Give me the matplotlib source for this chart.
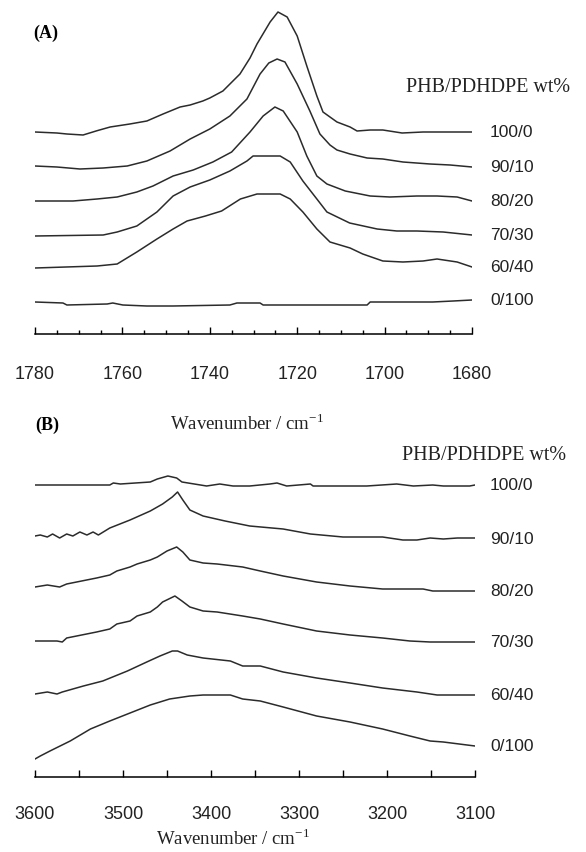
import numpy as np
import matplotlib
matplotlib.use('Agg')
import matplotlib.pyplot as plt
from matplotlib.ticker import MultipleLocator

plt.rcParams['mathtext.fontset'] = 'stix'

blend_labels = ['100/0', '90/10', '80/20', '70/30', '60/40', '0/100']

# ---- (A) carbonyl region, wavenumber (cm-1) / relative absorbance (a.u.)
a_offsets = [202, 168, 133, 98, 66, 32]

a_wn_100 = [1780, 1775, 1772.7, 1769, 1765.8, 1762.8, 1758.3, 1754.4, 1750.7, 1746.8, 1744.5, 1741.6,
            1740, 1737, 1733.1, 1730.8, 1729.2, 1726.2, 1724.4, 1722.3, 1720, 1717.8, 1715.5, 1714.1,
            1710.9, 1707.9, 1706.3, 1703.3, 1700.4, 1696, 1691.2, 1685, 1682, 1680]
a_ab_100 = [0, -1, -2, -3, 1.3, 5, 8, 11, 18, 25, 27, 31,
            34, 41, 58, 74, 88, 110, 120, 115, 96, 66, 36, 20,
            10, 5, 1, 2, 2, -1, 0, 0, 0, 0]

a_wn_90 = [1780, 1775, 1769.7, 1764.4, 1758.9, 1754.4, 1749.1, 1744.5, 1740, 1735.4, 1731.5, 1728.5,
           1726.5, 1724.6, 1722.8, 1720, 1717.1, 1714.8, 1712.5, 1710.9, 1707.9, 1704, 1700.4, 1695.8,
           1689.6, 1685, 1680]
a_ab_90 = [0, -1, -3, -2, 0, 5, 15, 27, 37, 50, 67, 92,
           103, 107, 104, 82, 55, 32, 21, 16, 12, 8, 7, 4,
           2, 1, -1]

a_wn_80 = [1780, 1771.3, 1765.8, 1761.2, 1756.7, 1753, 1748.4, 1743.8, 1739.3, 1735, 1730.8, 1727.8,
           1725.1, 1723.2, 1720, 1717.8, 1715.5, 1713.2, 1709, 1703.3, 1698.8, 1692.6, 1688, 1683.4, 1680]
a_ab_80 = [0, 0, 2, 4, 9, 15, 25, 31, 39, 49, 69, 85,
           94, 90, 69, 45, 25, 17, 10, 5, 4, 5, 5, 4, 0]

a_wn_70 = [1780, 1764.4, 1761.2, 1756.7, 1752.1, 1748.4, 1744.5, 1740, 1735.4, 1731.5, 1730.1, 1723.9,
           1721.6, 1718.7, 1715.5, 1713.2, 1708, 1701.7, 1697.2, 1692.6, 1686.6, 1680]
a_ab_70 = [0, 1, 4, 10, 24, 40, 49, 56, 65, 75, 80, 80,
           74, 55, 37, 24, 13, 7, 5, 5, 4, 1]

a_wn_60 = [1780, 1765.8, 1761.2, 1756.7, 1752.1, 1748.4, 1745.2, 1741, 1737.3, 1733, 1729.2, 1723.9,
           1721.6, 1718.7, 1715.5, 1712.5, 1707.9, 1705, 1700.4, 1695.8, 1691.2, 1688, 1683.4, 1680]
a_ab_60 = [0, 2, 4, 16, 29, 39, 47, 52, 57, 69, 74, 74,
           69, 56, 39, 26, 20, 14, 7, 6, 7, 9, 6, 1]

a_wn_0 = [1780, 1773.6, 1772.7, 1763.5, 1762.2, 1759.9, 1754.4, 1748.4, 1735.4, 1733.8, 1728.5, 1727.8,
          1704, 1703.3, 1689, 1684.3, 1680]
a_ab_0 = [0, -1, -3, -2, -1, -3, -4, -4, -3, -1, -1, -3,
          -3, 0, 0, 1, 2]

# ---- (B) hydroxyl region
b_offsets = [292, 241, 190, 136, 83, 18]

b_wn_100 = [3600, 3515, 3511, 3503, 3469, 3461, 3449, 3439, 3433, 3405, 3390, 3375, 3356, 3333, 3325,
            3314, 3287, 3284, 3223, 3189, 3170, 3148, 3136, 3106, 3100]
b_ab_100 = [0, 0, 2, 1, 3, 6, 9, 7, 3, -1, 1, -1, -1, 1, 2,
            -1, 1, -1, -1, 1, -1, 0, -1, -1, 0]

b_wn_90 = [3600, 3594, 3586, 3580, 3572, 3564, 3557, 3549, 3541, 3534, 3528, 3515, 3492, 3469, 3455,
           3444, 3438, 3432, 3424, 3409, 3384, 3356, 3318, 3287, 3250, 3205, 3182, 3166, 3151, 3136,
           3120, 3100]
b_ab_90 = [0, 1, -1, 2, -2, 2, 0, 4, 1, 4, 1, 8, 16, 25, 32,
           39, 44, 36, 26, 20, 15, 10, 7, 2, -1, -1, -4, -4, -2, -3,
           -2, -2]

b_wn_80 = [3600, 3586, 3572, 3564, 3530, 3515, 3507, 3492, 3484, 3469, 3461, 3450, 3439, 3432, 3424,
           3409, 3393, 3364, 3344, 3318, 3280, 3242, 3205, 3159, 3148, 3100]
b_ab_80 = [0, 2, 0, 3, 9, 12, 16, 20, 23, 27, 30, 36, 40, 35, 27,
           24, 23, 20, 16, 11, 5, 1, -2, -2, -4, -4]

b_wn_70 = [3600, 3575, 3569, 3564, 3530, 3515, 3507, 3492, 3484, 3469, 3461, 3455, 3441, 3433, 3424,
           3409, 3393, 3364, 3344, 3318, 3280, 3242, 3205, 3174, 3151, 3100]
b_ab_70 = [0, 0, -1, 3, 9, 12, 17, 20, 25, 29, 34, 39, 45, 40, 34,
           30, 29, 25, 22, 17, 10, 6, 3, 0, -1, -1]

b_wn_60 = [3600, 3586, 3575, 3569, 3545, 3523, 3495, 3473, 3458, 3444, 3438, 3427, 3409, 3378, 3364,
           3344, 3318, 3280, 3242, 3205, 3166, 3143, 3100]
b_ab_60 = [0, 2, 0, 2, 8, 13, 23, 32, 38, 43, 43, 39, 36, 33, 28,
           28, 22, 16, 11, 6, 2, -1, -1]

b_wn_0 = [3600, 3594, 3583, 3560, 3537, 3515, 3492, 3469, 3447, 3424, 3409, 3390, 3378, 3364, 3344,
          3318, 3280, 3242, 3205, 3174, 3151, 3136, 3100]
b_ab_0 = [0, 3, 8, 18, 30, 38, 46, 54, 60, 63, 64, 64, 64, 60, 58,
          52, 43, 37, 30, 23, 18, 17, 13]

a_curves = [(a_wn_100, a_ab_100), (a_wn_90, a_ab_90), (a_wn_80, a_ab_80),
            (a_wn_70, a_ab_70), (a_wn_60, a_ab_60), (a_wn_0, a_ab_0)]
b_curves = [(b_wn_100, b_ab_100), (b_wn_90, b_ab_90), (b_wn_80, b_ab_80),
            (b_wn_70, b_ab_70), (b_wn_60, b_ab_60), (b_wn_0, b_ab_0)]

W, H = 586, 853
fig = plt.figure(figsize=(W / 100, H / 100), dpi=100)

serif = ['Liberation Serif', 'DejaVu Serif']
sans = ['Liberation Sans', 'DejaVu Sans']
line_col = '#2b2b2b'


def px(x, y):
    return x / W, 1 - y / H


def setup(ax, lo, hi, major, minor, ymax, ticklen, pad):
    ax.set_xlim(lo, hi)
    ax.set_ylim(0, ymax)
    for s in ['left', 'right', 'top']:
        ax.spines[s].set_visible(False)
    ax.spines['bottom'].set_linewidth(1.1)
    ax.set_yticks([])
    ax.xaxis.set_major_locator(MultipleLocator(major))
    ax.xaxis.set_minor_locator(MultipleLocator(minor))
    ax.tick_params(axis='x', which='major', direction='in', length=ticklen[0], width=1.0,
                   pad=pad, labelsize=13, labelcolor='#222222')
    ax.tick_params(axis='x', which='minor', direction='in', length=ticklen[1], width=1.0)
    for t in ax.get_xticklabels():
        t.set_family(sans)
    ax.patch.set_alpha(0)


# panel A: axis line at y=335 px, x 35..472 px
axA = fig.add_axes([35 / W, 1 - 335 / H, 437 / W, 330 / H])
setup(axA, 1780, 1680, 20, 5, 330, (5, 3), 22)
for (wn, ab), off, lab in zip(a_curves, a_offsets, blend_labels):
    axA.plot(wn, off + np.array(ab), color=line_col, lw=1.1, solid_joinstyle='round')
    axA.text(1680 - 18 / 437 * 100, off + ab[-1], lab, fontsize=12.5,
             family=sans, va='center', ha='left', color='#222222')

# panel B: axis line at y=778 px, x 35..475 px
axB = fig.add_axes([35 / W, 1 - 778 / H, 440 / W, 318 / H])
setup(axB, 3600, 3100, 100, 50, 318, (5, 5), 20)
for (wn, ab), off, lab in zip(b_curves, b_offsets, blend_labels):
    axB.plot(wn, off + np.array(ab), color=line_col, lw=1.1, solid_joinstyle='round')
    axB.text(3100 - 15 / 440 * 500, off + ab[-1], lab, fontsize=12.5,
             family=sans, va='center', ha='left', color='#222222')

fig.text(*px(33, 33), '(A)', fontsize=13, fontweight='bold', family=serif, va='center')
fig.text(*px(35, 425), '(B)', fontsize=13, fontweight='bold', family=serif, va='center')
fig.text(*px(406, 88), 'PHB/PDHDPE wt%', fontsize=14.5, family=serif, va='center', color='#222222')
fig.text(*px(402, 456), 'PHB/PDHDPE wt%', fontsize=14.5, family=serif, va='center', color='#222222')
fig.text(*px(247, 424), r'Wavenumber / cm$^{\mathregular{-1}}$', fontsize=13.5, family=serif,
         ha='center', va='center', color='#222222')
fig.text(*px(233, 839), r'Wavenumber / cm$^{\mathregular{-1}}$', fontsize=13.5, family=serif,
         ha='center', va='center', color='#222222')

fig.savefig('out.png', dpi=100, facecolor='white')
